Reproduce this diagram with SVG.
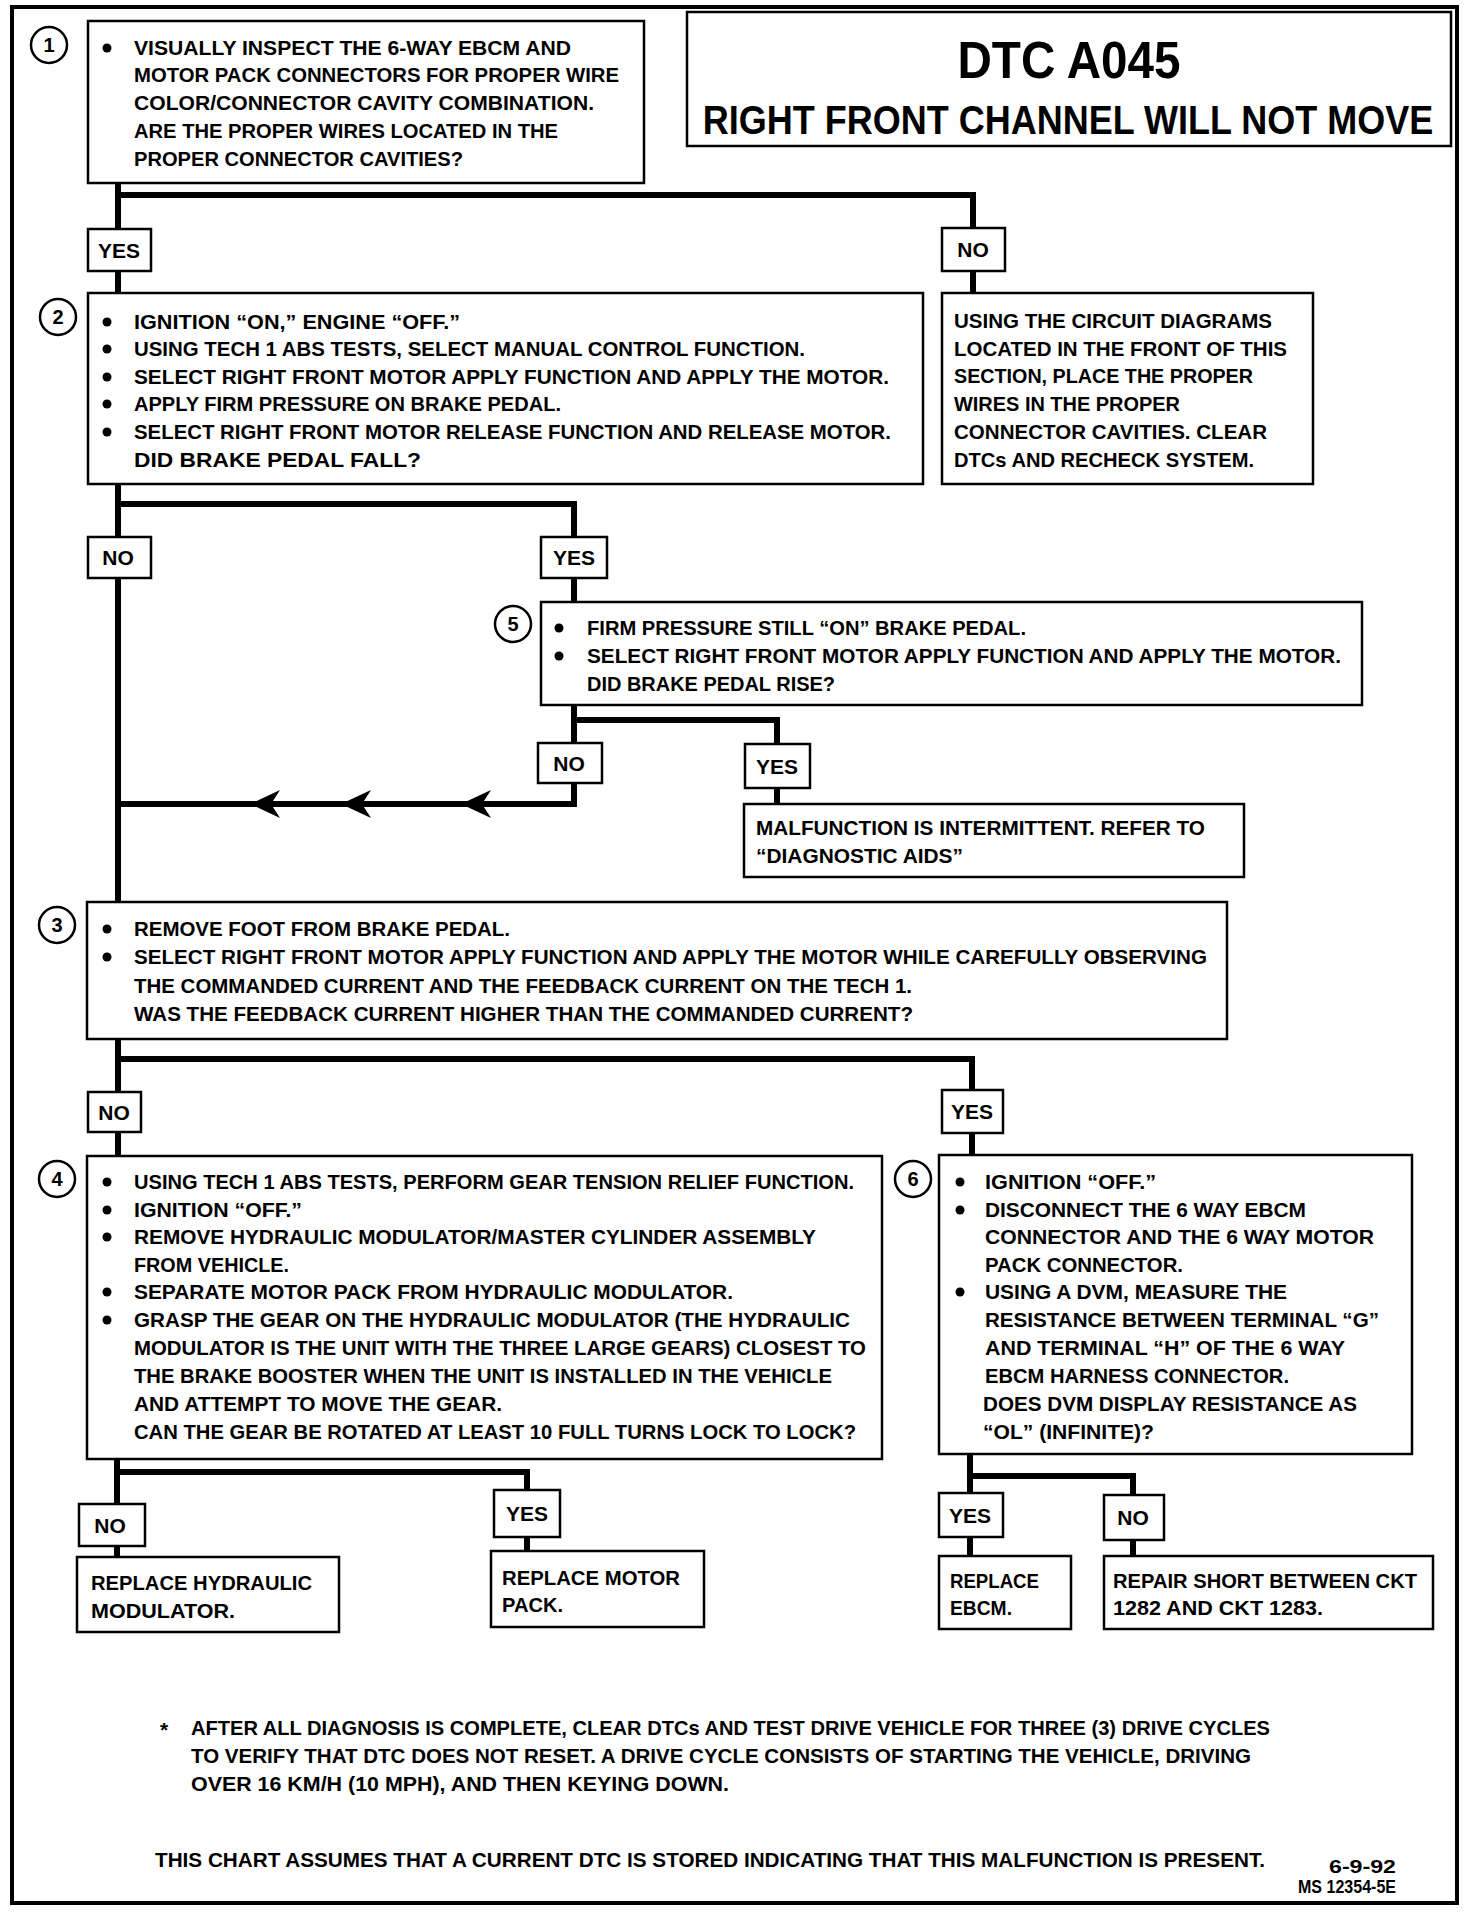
<svg xmlns="http://www.w3.org/2000/svg" width="1472" height="1912" viewBox="0 0 1472 1912">
<style>
.box{fill:#fff;stroke:#000;stroke-width:2.5}
.frame{fill:none;stroke:#000;stroke-width:4}
.conn{fill:none;stroke:#000;stroke-width:6}
.num{fill:#fff;stroke:#000;stroke-width:2.5}
text{font-family:"Liberation Sans",Arial,sans-serif;font-weight:bold;font-size:21px;fill:#000}
.c{text-anchor:middle}
.n{font-size:20px;text-anchor:middle}
</style>
<defs>
<path id="arw" d="M0,0 L30,-14 L21,0 L30,14 Z" fill="#000"/>
<circle id="dot" r="4.5" fill="#000"/>
</defs>
<rect width="1472" height="1912" fill="#fff"/>
<rect class="frame" x="12" y="7" width="1445" height="1896"/>

<g id="title">
<rect class="box" x="687" y="12" width="764" height="134"/>
<text class="c" x="1069" y="78" style="font-size:52px" textLength="223" lengthAdjust="spacingAndGlyphs">DTC A045</text>
<g transform="scale(0.9,1)"><text class="c" x="1186.7" y="134" style="font-size:40px">RIGHT FRONT CHANNEL WILL NOT MOVE</text></g>
</g>

<g id="connectors">
<polyline class="conn" points="118,183 118,229"/>
<polyline class="conn" points="118,195 973,195 973,228"/>
<polyline class="conn" points="118,271 118,293"/>
<polyline class="conn" points="973,271 973,293"/>
<polyline class="conn" points="118,484 118,537"/>
<polyline class="conn" points="118,504 574,504 574,537"/>
<polyline class="conn" points="574,578 574,602"/>
<polyline class="conn" points="118,578 118,902"/>
<polyline class="conn" points="574,705 574,743"/>
<polyline class="conn" points="574,720 777,720 777,744"/>
<polyline class="conn" points="777,788 777,804"/>
<polyline class="conn" points="574,783 574,804 118,804"/>
<use href="#arw" x="250" y="804"/>
<use href="#arw" x="341" y="804"/>
<use href="#arw" x="461" y="804"/>
<polyline class="conn" points="118,1039 118,1092"/>
<polyline class="conn" points="118,1059 972,1059 972,1090"/>
<polyline class="conn" points="972,1133 972,1155"/>
<polyline class="conn" points="118,1132 118,1156"/>
<polyline class="conn" points="117,1459 117,1504"/>
<polyline class="conn" points="117,1472 527,1472 527,1490"/>
<polyline class="conn" points="117,1546 117,1557"/>
<polyline class="conn" points="527,1537 527,1551"/>
<polyline class="conn" points="970,1454 970,1493"/>
<polyline class="conn" points="970,1476 1133,1476 1133,1495"/>
<polyline class="conn" points="970,1537 970,1556"/>
<polyline class="conn" points="1133,1540 1133,1556"/>
</g>

<g id="labels">
<g id="l-yes1"><rect class="box" x="88" y="229" width="63" height="42"/><text class="c" x="119" y="258">YES</text></g>
<g id="l-no1"><rect class="box" x="942" y="228" width="63" height="43"/><text class="c" x="973" y="257">NO</text></g>
<g id="l-no2"><rect class="box" x="88" y="537" width="63" height="41"/><text class="c" x="118" y="565">NO</text></g>
<g id="l-yes2"><rect class="box" x="541" y="537" width="66" height="41"/><text class="c" x="574" y="565">YES</text></g>
<g id="l-no5"><rect class="box" x="538" y="743" width="64" height="40"/><text class="c" x="569" y="771">NO</text></g>
<g id="l-yes5"><rect class="box" x="745" y="744" width="65" height="44"/><text class="c" x="777" y="774">YES</text></g>
<g id="l-no3"><rect class="box" x="88" y="1092" width="53" height="40"/><text class="c" x="114" y="1120">NO</text></g>
<g id="l-yes3"><rect class="box" x="942" y="1090" width="61" height="43"/><text class="c" x="972" y="1119">YES</text></g>
<g id="l-no4"><rect class="box" x="79" y="1504" width="66" height="42"/><text class="c" x="110" y="1533">NO</text></g>
<g id="l-yes4"><rect class="box" x="494" y="1490" width="66" height="47"/><text class="c" x="527" y="1521">YES</text></g>
<g id="l-yes6"><rect class="box" x="939" y="1493" width="64" height="44"/><text class="c" x="970" y="1523">YES</text></g>
<g id="l-no6"><rect class="box" x="1104" y="1495" width="60" height="45"/><text class="c" x="1133" y="1525">NO</text></g>
</g>

<g id="step1">
<rect class="box" x="88" y="21" width="556" height="162"/>
<circle class="num" cx="49" cy="45" r="18"/><text class="n" x="49" y="52">1</text>
<use href="#dot" x="107" y="48"/>
<text x="134" y="55" textLength="437" lengthAdjust="spacingAndGlyphs">VISUALLY INSPECT THE 6-WAY EBCM AND</text>
<text x="134" y="82" textLength="485" lengthAdjust="spacingAndGlyphs">MOTOR PACK CONNECTORS FOR PROPER WIRE</text>
<text x="134" y="110" textLength="460" lengthAdjust="spacingAndGlyphs">COLOR/CONNECTOR CAVITY COMBINATION.</text>
<text x="134" y="138" textLength="424" lengthAdjust="spacingAndGlyphs">ARE THE PROPER WIRES LOCATED IN THE</text>
<text x="134" y="166" textLength="329" lengthAdjust="spacingAndGlyphs">PROPER CONNECTOR CAVITIES?</text>
</g>

<g id="step2">
<rect class="box" x="88" y="293" width="835" height="191"/>
<circle class="num" cx="58" cy="317" r="18"/><text class="n" x="58" y="324">2</text>
<use href="#dot" x="107" y="322"/>
<use href="#dot" x="107" y="349"/>
<use href="#dot" x="107" y="377"/>
<use href="#dot" x="107" y="404"/>
<use href="#dot" x="107" y="432"/>
<text x="134" y="329" textLength="326" lengthAdjust="spacingAndGlyphs">IGNITION “ON,” ENGINE “OFF.”</text>
<text x="134" y="356" textLength="671" lengthAdjust="spacingAndGlyphs">USING TECH 1 ABS TESTS, SELECT MANUAL CONTROL FUNCTION.</text>
<text x="134" y="384" textLength="755" lengthAdjust="spacingAndGlyphs">SELECT RIGHT FRONT MOTOR APPLY FUNCTION AND APPLY THE MOTOR.</text>
<text x="134" y="411" textLength="427" lengthAdjust="spacingAndGlyphs">APPLY FIRM PRESSURE ON BRAKE PEDAL.</text>
<text x="134" y="439" textLength="757" lengthAdjust="spacingAndGlyphs">SELECT RIGHT FRONT MOTOR RELEASE FUNCTION AND RELEASE MOTOR.</text>
<text x="134" y="467" textLength="287" lengthAdjust="spacingAndGlyphs">DID BRAKE PEDAL FALL?</text>
</g>

<g id="fix-wires">
<rect class="box" x="942" y="293" width="371" height="191"/>
<text x="954" y="328" textLength="318" lengthAdjust="spacingAndGlyphs">USING THE CIRCUIT DIAGRAMS</text>
<text x="954" y="356" textLength="333" lengthAdjust="spacingAndGlyphs">LOCATED IN THE FRONT OF THIS</text>
<text x="954" y="383" textLength="299" lengthAdjust="spacingAndGlyphs">SECTION, PLACE THE PROPER</text>
<text x="954" y="411" textLength="226" lengthAdjust="spacingAndGlyphs">WIRES IN THE PROPER</text>
<text x="954" y="439" textLength="313" lengthAdjust="spacingAndGlyphs">CONNECTOR CAVITIES.  CLEAR</text>
<text x="954" y="467" textLength="300" lengthAdjust="spacingAndGlyphs">DTCs AND RECHECK SYSTEM.</text>
</g>

<g id="step5">
<rect class="box" x="541" y="602" width="821" height="103"/>
<circle class="num" cx="513" cy="624" r="18"/><text class="n" x="513" y="631">5</text>
<use href="#dot" x="559" y="628"/>
<use href="#dot" x="559" y="656"/>
<text x="587" y="635" textLength="439" lengthAdjust="spacingAndGlyphs">FIRM PRESSURE STILL “ON” BRAKE PEDAL.</text>
<text x="587" y="663" textLength="754" lengthAdjust="spacingAndGlyphs">SELECT RIGHT FRONT MOTOR APPLY FUNCTION AND APPLY THE MOTOR.</text>
<text x="587" y="691" textLength="248" lengthAdjust="spacingAndGlyphs">DID BRAKE PEDAL RISE?</text>
</g>

<g id="intermittent">
<rect class="box" x="744" y="804" width="500" height="73"/>
<text x="756" y="835" textLength="449" lengthAdjust="spacingAndGlyphs">MALFUNCTION IS INTERMITTENT.  REFER TO</text>
<text x="756" y="863" textLength="207" lengthAdjust="spacingAndGlyphs">“DIAGNOSTIC AIDS”</text>
</g>

<g id="step3">
<rect class="box" x="87" y="902" width="1140" height="137"/>
<circle class="num" cx="57" cy="925" r="18"/><text class="n" x="57" y="932">3</text>
<use href="#dot" x="107" y="929"/>
<use href="#dot" x="107" y="957"/>
<text x="134" y="936" textLength="376" lengthAdjust="spacingAndGlyphs">REMOVE FOOT FROM BRAKE PEDAL.</text>
<text x="134" y="964" textLength="1073" lengthAdjust="spacingAndGlyphs">SELECT RIGHT FRONT MOTOR APPLY FUNCTION AND APPLY THE MOTOR WHILE CAREFULLY OBSERVING</text>
<text x="134" y="993" textLength="778" lengthAdjust="spacingAndGlyphs">THE COMMANDED CURRENT AND THE FEEDBACK CURRENT ON THE TECH 1.</text>
<text x="134" y="1021" textLength="779" lengthAdjust="spacingAndGlyphs">WAS THE FEEDBACK CURRENT HIGHER THAN THE COMMANDED CURRENT?</text>
</g>

<g id="step4">
<rect class="box" x="87" y="1156" width="795" height="303"/>
<circle class="num" cx="57" cy="1179" r="18"/><text class="n" x="57" y="1186">4</text>
<use href="#dot" x="107" y="1182"/>
<use href="#dot" x="107" y="1210"/>
<use href="#dot" x="107" y="1237"/>
<use href="#dot" x="107" y="1292"/>
<use href="#dot" x="107" y="1320"/>
<text x="134" y="1189" textLength="720" lengthAdjust="spacingAndGlyphs">USING TECH 1 ABS TESTS, PERFORM GEAR TENSION RELIEF FUNCTION.</text>
<text x="134" y="1217" textLength="168" lengthAdjust="spacingAndGlyphs">IGNITION “OFF.”</text>
<text x="134" y="1244" textLength="682" lengthAdjust="spacingAndGlyphs">REMOVE HYDRAULIC MODULATOR/MASTER CYLINDER ASSEMBLY</text>
<text x="134" y="1272" textLength="155" lengthAdjust="spacingAndGlyphs">FROM VEHICLE.</text>
<text x="134" y="1299" textLength="599" lengthAdjust="spacingAndGlyphs">SEPARATE MOTOR PACK FROM HYDRAULIC MODULATOR.</text>
<text x="134" y="1327" textLength="716" lengthAdjust="spacingAndGlyphs">GRASP THE GEAR ON THE HYDRAULIC MODULATOR (THE HYDRAULIC</text>
<text x="134" y="1355" textLength="732" lengthAdjust="spacingAndGlyphs">MODULATOR IS THE UNIT WITH THE THREE LARGE GEARS) CLOSEST TO</text>
<text x="134" y="1383" textLength="698" lengthAdjust="spacingAndGlyphs">THE BRAKE BOOSTER WHEN THE UNIT IS INSTALLED IN THE VEHICLE</text>
<text x="134" y="1411" textLength="368" lengthAdjust="spacingAndGlyphs">AND ATTEMPT TO MOVE THE GEAR.</text>
<text x="134" y="1439" textLength="722" lengthAdjust="spacingAndGlyphs">CAN THE GEAR BE ROTATED AT LEAST 10 FULL TURNS LOCK TO LOCK?</text>
</g>

<g id="step6">
<rect class="box" x="939" y="1155" width="473" height="299"/>
<circle class="num" cx="913" cy="1179" r="18"/><text class="n" x="913" y="1186">6</text>
<use href="#dot" x="960" y="1182"/>
<use href="#dot" x="960" y="1210"/>
<use href="#dot" x="960" y="1292"/>
<text x="985" y="1189" textLength="171" lengthAdjust="spacingAndGlyphs">IGNITION “OFF.”</text>
<text x="985" y="1217" textLength="321" lengthAdjust="spacingAndGlyphs">DISCONNECT THE 6 WAY EBCM</text>
<text x="985" y="1244" textLength="389" lengthAdjust="spacingAndGlyphs">CONNECTOR AND THE 6 WAY MOTOR</text>
<text x="985" y="1272" textLength="198" lengthAdjust="spacingAndGlyphs">PACK CONNECTOR.</text>
<text x="985" y="1299" textLength="302" lengthAdjust="spacingAndGlyphs">USING A DVM, MEASURE THE</text>
<text x="985" y="1327" textLength="394" lengthAdjust="spacingAndGlyphs">RESISTANCE BETWEEN TERMINAL “G”</text>
<text x="985" y="1355" textLength="360" lengthAdjust="spacingAndGlyphs">AND TERMINAL “H” OF THE 6 WAY</text>
<text x="985" y="1383" textLength="304" lengthAdjust="spacingAndGlyphs">EBCM HARNESS CONNECTOR.</text>
<text x="983" y="1411" textLength="374" lengthAdjust="spacingAndGlyphs">DOES DVM DISPLAY RESISTANCE AS</text>
<text x="983" y="1439" textLength="171" lengthAdjust="spacingAndGlyphs">“OL” (INFINITE)?</text>
</g>

<g id="replace-modulator">
<rect class="box" x="77" y="1557" width="262" height="75"/>
<text x="91" y="1590" textLength="221" lengthAdjust="spacingAndGlyphs">REPLACE HYDRAULIC</text>
<text x="91" y="1618" textLength="144" lengthAdjust="spacingAndGlyphs">MODULATOR.</text>
</g>

<g id="replace-motor">
<rect class="box" x="491" y="1551" width="213" height="76"/>
<text x="502" y="1585" textLength="178" lengthAdjust="spacingAndGlyphs">REPLACE MOTOR</text>
<text x="502" y="1612" textLength="61" lengthAdjust="spacingAndGlyphs">PACK.</text>
</g>

<g id="replace-ebcm">
<rect class="box" x="939" y="1556" width="132" height="73"/>
<text x="950" y="1588" textLength="89" lengthAdjust="spacingAndGlyphs">REPLACE</text>
<text x="950" y="1615" textLength="62" lengthAdjust="spacingAndGlyphs">EBCM.</text>
</g>

<g id="repair-short">
<rect class="box" x="1104" y="1556" width="329" height="73"/>
<text x="1113" y="1588" textLength="304" lengthAdjust="spacingAndGlyphs">REPAIR SHORT BETWEEN CKT</text>
<text x="1113" y="1615" textLength="210" lengthAdjust="spacingAndGlyphs">1282 AND CKT 1283.</text>
</g>

<g id="notes">
<text x="160" y="1737">*</text>
<text x="191" y="1735" textLength="1079" lengthAdjust="spacingAndGlyphs">AFTER ALL DIAGNOSIS IS COMPLETE, CLEAR DTCs AND TEST DRIVE VEHICLE FOR THREE (3) DRIVE CYCLES</text>
<text x="191" y="1763" textLength="1060" lengthAdjust="spacingAndGlyphs">TO VERIFY THAT DTC DOES NOT RESET.  A DRIVE CYCLE CONSISTS OF STARTING THE VEHICLE, DRIVING</text>
<text x="191" y="1791" textLength="538" lengthAdjust="spacingAndGlyphs">OVER 16 KM/H (10 MPH), AND THEN KEYING DOWN.</text>
<text x="155" y="1867" textLength="1110" lengthAdjust="spacingAndGlyphs">THIS CHART ASSUMES THAT A CURRENT DTC IS STORED INDICATING THAT THIS MALFUNCTION IS PRESENT.</text>
<text x="1329" y="1873" style="font-size:18px" textLength="67" lengthAdjust="spacingAndGlyphs">6-9-92</text>
<text x="1298" y="1893" style="font-size:18px" textLength="98" lengthAdjust="spacingAndGlyphs">MS 12354-5E</text>
</g>
</svg>
